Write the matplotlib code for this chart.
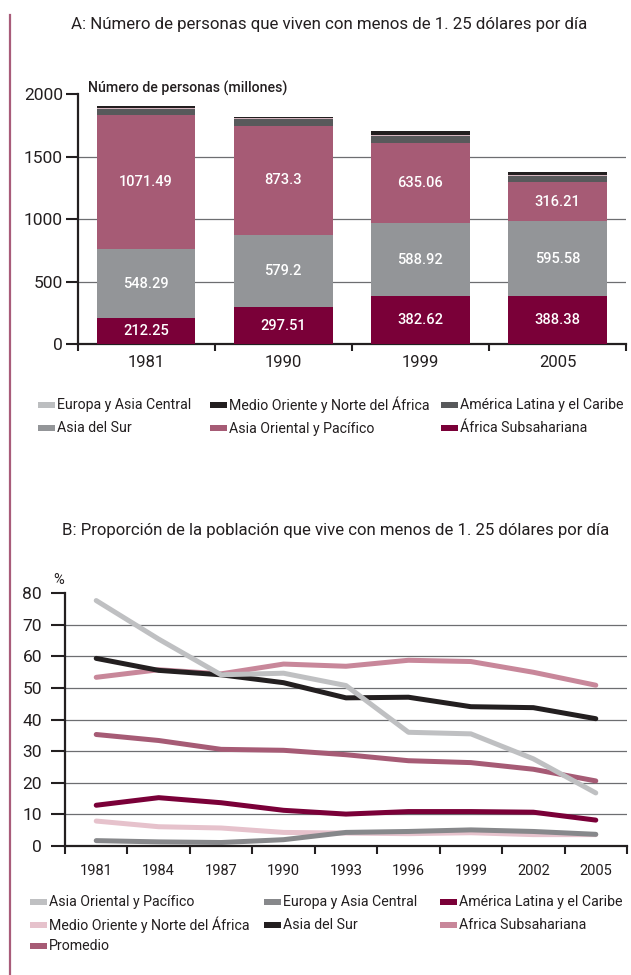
import numpy as np
import matplotlib
matplotlib.use("Agg")
import matplotlib.pyplot as plt
from matplotlib.patches import Rectangle
from matplotlib.lines import Line2D

W, H = 631, 975
REG = ["Roboto", "DejaVu Sans"]
COND = ["Roboto", "DejaVu Sans"]  # no hay fuente condensada instalada
TXT = "#231f20"

# ---- datos panel A (millones de personas) ----
anios_a = ["1981", "1990", "1999", "2005"]
africa_sub_a = [212.25, 297.51, 382.62, 388.38]
asia_sur_a = [548.29, 579.2, 588.92, 595.58]
asia_oriental_a = [1071.49, 873.3, 635.06, 316.21]
america_latina_a = [48, 50, 58, 50]
europa_asia_a = [14, 10, 11, 8]
medio_oriente_a = [10, 10, 29, 21]

# ---- datos panel B (% de la poblacion) ----
anios_b = ["1981", "1984", "1987", "1990", "1993", "1996", "1999", "2002", "2005"]
asia_oriental_b = [77.7, 65.5, 54.2, 54.7, 50.8, 36.0, 35.5, 27.6, 16.8]
europa_asia_b = [1.7, 1.3, 1.1, 2.0, 4.3, 4.6, 5.1, 4.6, 3.7]
america_latina_b = [12.9, 15.3, 13.7, 11.3, 10.1, 10.9, 10.9, 10.7, 8.2]
medio_oriente_b = [7.9, 6.1, 5.7, 4.3, 4.1, 3.9, 4.2, 3.6, 3.6]
asia_sur_b = [59.4, 55.6, 54.2, 51.7, 46.9, 47.1, 44.1, 43.8, 40.3]
africa_sub_b = [53.4, 55.8, 54.5, 57.6, 56.9, 58.8, 58.4, 55.0, 50.9]
promedio_b = [35.3, 33.4, 30.6, 30.3, 28.9, 27.0, 26.4, 24.3, 20.6]

fig = plt.figure(figsize=(W / 100, H / 100), dpi=100)


def fx(x):
    return x / W


def fy(y):
    return 1 - y / H


# linea vertical a la izquierda
fig.add_artist(Line2D([fx(10), fx(10)], [fy(15), fy(975)], color="#a85c7a", lw=1.6))


def estilo_ejes(ax, ylen, ypad):
    for s in ["top", "right"]:
        ax.spines[s].set_visible(False)
    for s in ["left", "bottom"]:
        ax.spines[s].set_linewidth(1.6)
        ax.spines[s].set_color(TXT)
    ax.tick_params(axis="y", length=ylen, width=1.5, color=TXT, pad=ypad,
                   labelsize=12.5, labelcolor=TXT)
    ax.tick_params(axis="x", which="major", length=0, labelcolor=TXT)
    ax.tick_params(axis="x", which="minor", length=5, width=1.5, color=TXT)
    for lab in ax.get_yticklabels():
        lab.set_family(REG)


def leyenda(items, cols, rows, sw_dx):
    for k, (lab, col) in enumerate(items):
        x = cols[k % 3]
        y = rows[k // 3]
        fig.add_artist(Rectangle((fx(x), fy(y + 3)), 17 / W, 6 / H,
                                 transform=fig.transFigure, color=col, lw=0))
        fig.text(fx(x + sw_dx), fy(y), lab, family=COND, fontsize=10.2,
                 color=TXT, va="center", ha="left")


# ================= Panel A =================
fig.text(fx(329), fy(24), "A: Número de personas que viven con menos de 1. 25 dólares por día",
         family=REG, fontsize=12.2, color=TXT, ha="center", va="center")

ax1 = fig.add_axes([fx(77.5), fy(344.3), (626 - 77.5) / W, 250 / H])
x = np.arange(len(anios_a))
capas = [
    (africa_sub_a, "#7a0038", True),
    (asia_sur_a, "#939598", True),
    (asia_oriental_a, "#a65b75", True),
    (america_latina_a, "#58595b", False),
    (europa_asia_a, "#d5b4be", False),
    (medio_oriente_a, "#231f20", False),
]
base = np.zeros(len(anios_a))
for vals, col, etiqueta in capas:
    vals = np.array(vals, dtype=float)
    ax1.bar(x, vals, 0.72, bottom=base, color=col, zorder=3, lw=0)
    if etiqueta:
        for i, v in enumerate(vals):
            ax1.text(x[i], base[i] + v / 2, f"{v:g}", ha="center", va="center",
                     color="white", family=COND, fontsize=10.5, weight="medium", zorder=4)
    base += vals

ax1.set_xlim(-0.5, 3.5)
ax1.set_ylim(0, 2000)
yt = [0, 500, 1000, 1500, 2000]
ax1.set_yticks(yt)
for g in yt[1:-1]:
    ax1.axhline(g, color="#6d6e71", lw=0.9, zorder=1)
ax1.set_xticks(x)
ax1.set_xticklabels(anios_a, family=REG, fontsize=12)
ax1.set_xticks(np.arange(-0.5, 3.6, 1), minor=True)
estilo_ejes(ax1, 8.6, 2)
ax1.tick_params(axis="x", which="major", pad=8)

fig.text(fx(88), fy(88), "Número de personas (millones)", family=COND, fontsize=10.2,
         weight="medium", color=TXT, ha="left", va="center")

leyenda([("Europa y Asia Central", "#bcbec0"),
         ("Medio Oriente y Norte del África", "#231f20"),
         ("América Latina y el Caribe", "#58595b"),
         ("Asia del Sur", "#939598"),
         ("Asia Oriental y Pacífico", "#a65b75"),
         ("África Subsahariana", "#7a0038")],
        [38, 210, 441], [405, 428.5], 19)

# ================= Panel B =================
fig.text(fx(336), fy(531), "B: Proporción de la población que vive con menos de 1. 25 dólares por día",
         family=REG, fontsize=12.1, color=TXT, ha="center", va="center")

ax2 = fig.add_axes([fx(65), fy(846), 562 / W, 252.7 / H])
xb = np.arange(len(anios_b))
series = [
    (promedio_b, "#a65b75"),
    (medio_oriente_b, "#e6c2cc"),
    (europa_asia_b, "#87888b"),
    (america_latina_b, "#7a0038"),
    (africa_sub_b, "#c8879a"),
    (asia_sur_b, "#231f20"),
    (asia_oriental_b, "#bfc0c2"),
]
for vals, col in series:
    ax2.plot(xb, vals, color=col, lw=3.6, solid_capstyle="round",
             solid_joinstyle="round", zorder=3)

ax2.set_xlim(-0.5, 8.5)
ax2.set_ylim(0, 80)
ytb = list(range(0, 81, 10))
ax2.set_yticks(ytb)
for g in ytb[1:-1]:
    ax2.axhline(g, color="#6d6e71", lw=0.9, zorder=1)
ax2.set_xticks(xb)
ax2.set_xticklabels(anios_b, family=COND, fontsize=10.5)
ax2.set_xticks(np.arange(-0.5, 8.6, 1), minor=True)
estilo_ejes(ax2, 10, 6.5)
ax2.tick_params(axis="x", which="minor", length=6)
ax2.tick_params(axis="x", which="major", pad=13)

fig.text(fx(59), fy(580), "%", family=COND, fontsize=10.5, color=TXT, ha="center", va="center")

leyenda([("Asia Oriental y Pacífico", "#bfc0c2"),
         ("Europa y Asia Central", "#87888b"),
         ("América Latina y el Caribe", "#7a0038"),
         ("Medio Oriente y Norte del África", "#e6c2cc"),
         ("Asia del Sur", "#231f20"),
         ("Africa Subsahariana", "#c8879a"),
         ("Promedio", "#a65b75")],
        [30, 264, 440], [902, 925, 946], 19)

fig.savefig("out.png", dpi=100)
